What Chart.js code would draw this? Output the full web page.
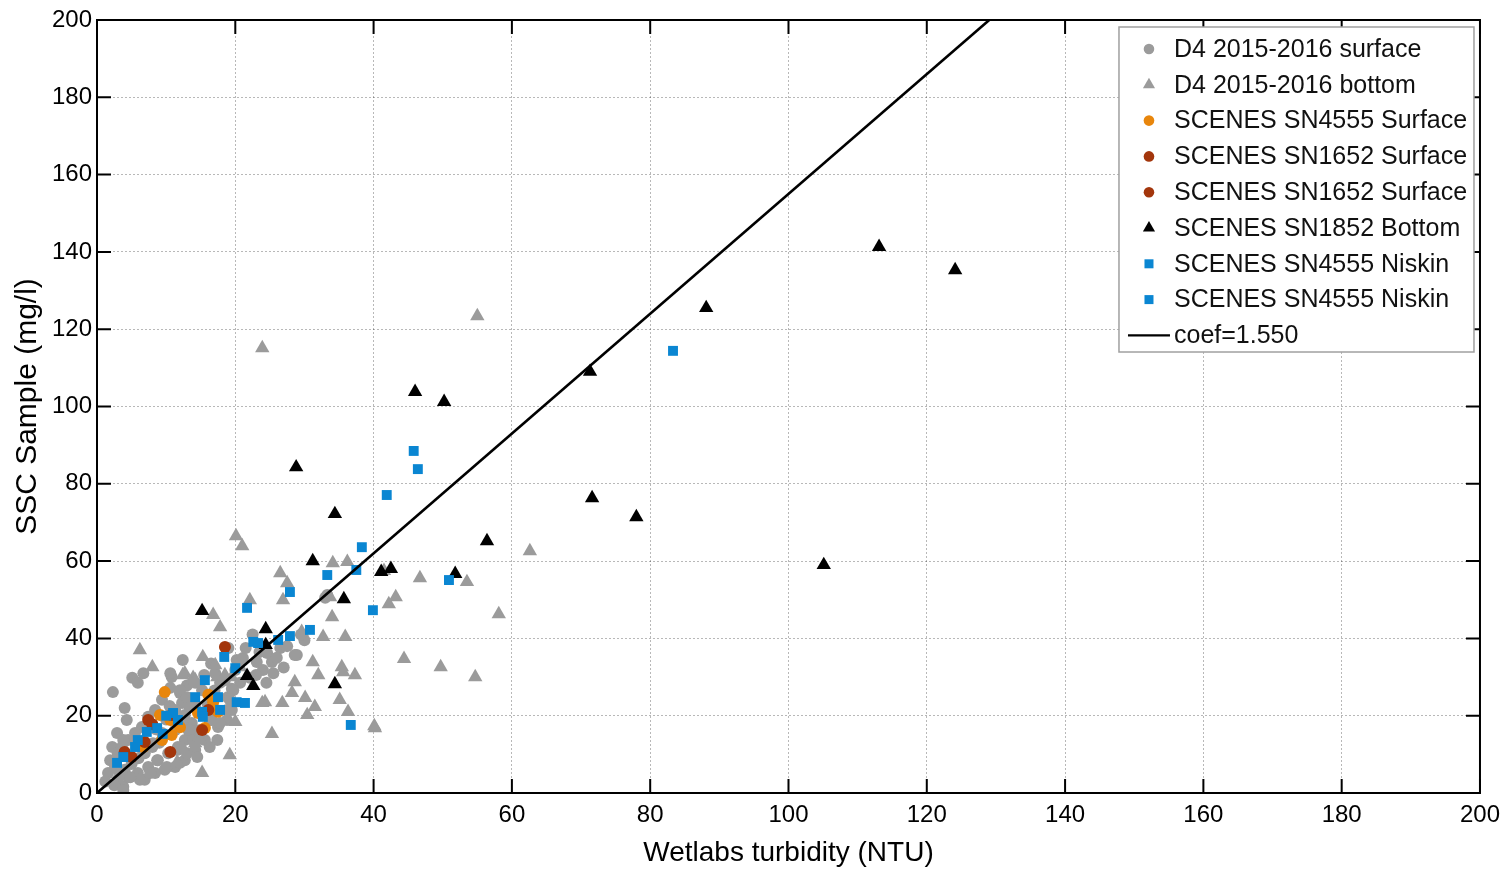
<!DOCTYPE html>
<html>
<head>
<meta charset="utf-8">
<script src="https://cdn.jsdelivr.net/npm/chart.js@4.4.1/dist/chart.umd.min.js"></script>
<style>
html,body{margin:0;padding:0;background:#fff;}
#wrap{width:1508px;height:872px;position:relative;}
</style>
</head>
<body>
<div id="wrap"><canvas id="c"></canvas></div>
<script>
// ---------- DATA ----------
const xTickValues = [0,20,40,60,80,100,120,140,160,180,200];
const yTickValues = [0,20,40,60,80,100,120,140,160,180,200];
const coef = 1.550;

const d4Surface = [
 [2.3,26.1],[4.0,22.0],[4.3,18.9],[2.9,15.5],[2.2,11.9],[1.9,8.5],[1.6,5.2],[3.8,1.6],
 [5.1,29.8],[5.9,28.5],[10.8,30.0],[10.6,27.2],[12.0,25.9],[13.2,24.6],[12.3,23.3],[14.2,22.3],
 [13.7,18.1],[13.2,16.3],[14.2,14.5],[12.7,13.7],[11.7,11.9],[10.3,10.3],[8.8,8.5],[7.4,6.7],
 [5.9,5.2],[4.5,4.1],[3.0,3.4],[2.6,6.7],[8.0,11.9],[6.9,10.3],[9.4,15.5],[11.3,16.3],
 [12.3,18.1],[11.3,21.5],[12.7,20.2],[16.6,18.9],[17.5,17.1],[15.6,13.7],[14.2,11.1],[12.7,8.5],
 [11.3,6.7],[9.8,6.0],[8.4,5.2],[6.9,3.4],[17.1,31.0],[18.5,29.2],[20.0,31.8],[21.0,34.4],
 [18.9,24.8],[19.5,21.5],[18.8,18.9],[14.2,28.5],[15.2,26.6],[9.4,24.1],[8.4,21.5],[7.4,19.7],
 [6.5,17.1],[5.5,15.5],[4.5,13.7],[3.6,11.9],[3.0,10.3],[3.8,13.7],[20.2,34.4],[21.1,34.9],
 [24.6,36.2],[23.1,33.9],[25.3,33.9],[28.9,35.7],[24.0,31.8],[22.1,29.8],[20.7,28.5],[33.0,50.5],
 [33.3,51.2],[28.6,35.7],[26.5,37.5],[16.0,23.0],[17.0,26.5],[19.5,27.0],[10.0,19.0],[9.0,13.0],
 [6.0,9.0],[5.0,7.5],[4.0,6.0],[7.0,12.5],[8.5,16.5],[10.5,22.5],[13.0,27.8],[15.5,30.5],
 [16.5,33.5],[21.5,37.5],[23.0,30.5],[25.5,31.0],[27.5,38.0],[30.0,39.5],[2.5,2.0],[1.2,3.0],
 [6.7,31.0],[10.6,31.0],[12.0,26.6],[13.0,24.8],[13.4,22.3],[12.4,18.9],[13.4,16.3],[8.1,12.9],
 [6.7,10.3],[5.2,8.5],[8.7,8.5],[10.1,6.7],[7.7,5.2],[6.2,3.4],[4.8,4.1],[3.3,5.2],
 [3.8,0.8],[11.6,11.1],[13.0,10.3],[12.0,7.8],[13.9,13.7],[14.9,16.3],[16.3,18.9],[17.8,18.1],
 [17.4,13.7],[16.3,11.9],[14.5,9.3],[19.7,26.6],[19.2,24.1],[18.8,21.5],[16.3,24.1],[17.8,28.5],
 [12.4,34.4],[23.5,36.5],[26.0,35.0],[27.0,32.5],[29.5,41.0],[22.5,41.0],[19.0,37.5],[24.5,28.5]
];

const d4Bottom = [
 [55.0,123.4],[23.9,115.1],[20.1,66.5],[21.0,63.9],[62.6,62.6],[58.1,46.3],[53.5,54.6],[46.7,55.6],
 [43.2,50.7],[42.2,48.9],[44.4,34.7],[49.7,32.6],[54.7,30.0],[40.1,17.3],[25.3,15.3],[15.2,5.2],
 [26.5,56.9],[27.5,54.3],[26.9,49.9],[22.1,49.9],[16.8,46.1],[17.8,42.9],[34.1,59.5],[36.2,59.8],
 [33.7,50.7],[34.0,45.5],[29.6,41.7],[32.7,40.4],[35.9,40.4],[35.4,32.6],[35.6,31.3],[37.3,30.5],
 [31.2,33.9],[32.0,30.5],[28.6,28.7],[28.2,25.9],[30.1,24.6],[26.8,23.3],[24.3,23.5],[31.5,22.3],
 [36.3,21.0],[30.4,20.2],[15.3,35.2],[13.9,29.8],[12.7,31.0],[17.1,33.1],[17.4,30.0],[20.7,32.6],
 [6.2,37.0],[8.0,32.6],[12.4,30.5],[20.0,18.4],[23.9,23.3],[11.6,8.0],[40.2,16.8],[35.1,24.1],
 [12.4,11.6],[14.2,12.9],[18.5,30.5],[41.5,57.5],[19.5,30.0],[14.2,29.2],[14.9,13.7],[19.2,9.8]
];

const sn4555Surface = [
 [9.8,26.1],[9.1,20.2],[10.6,18.9],[9.4,13.7],[16.1,25.4],[14.6,20.7],[15.6,16.8],[17.5,21.0],
 [6.7,11.9],[10.8,15.0],[16.8,23.5],[12.0,17.0]
];

const sn1652SurfaceA = [
 [18.5,37.8],[7.4,18.9],[10.8,20.2],[15.2,16.3],[10.6,10.6]
];
const sn1652SurfaceB = [
 [4.0,10.6],[5.0,9.3],[6.9,13.2],[16.1,21.5],[8.0,17.8]
];

const sn1852Bottom = [
 [113.1,141.3],[124.1,135.3],[88.1,125.5],[71.3,109.0],[46.0,103.8],[50.2,101.2],[28.8,84.3],[34.4,72.2],
 [71.6,76.3],[78.0,71.4],[56.4,65.2],[105.1,59.0],[31.2,60.0],[41.1,57.2],[42.5,58.0],[51.8,56.7],
 [35.7,50.2],[24.4,42.4],[24.4,38.3],[15.2,47.1],[21.7,30.3],[22.6,27.7],[34.4,28.2]
];

const sn4555NiskinA = [
 [83.3,114.4],[45.8,88.5],[46.4,83.8],[41.9,77.1],[38.3,63.6],[33.3,56.4],[37.5,57.7],[50.9,55.1],
 [27.9,52.0],[21.7,47.9],[39.9,47.3],[30.8,42.2],[27.9,40.6],[36.7,17.6],[26.2,39.6]
];
const sn4555NiskinB = [
 [22.6,39.1],[23.3,38.8],[18.4,35.2],[20.0,32.3],[15.6,29.2],[20.2,23.5],[21.4,23.3],[17.5,24.8],
 [17.8,21.5],[14.2,24.8],[15.2,21.0],[15.3,19.7],[11.0,20.7],[11.7,18.9],[8.7,16.8],[7.2,15.8],
 [5.9,13.7],[5.5,11.9],[3.8,9.3],[2.9,7.8],[10.0,20.0],[9.5,15.3]
];

const coefLine = [[0,0],[200/coef,200]];

// ---------- CHART ----------
const toXY = a => a.map(p => ({x:p[0], y:p[1]}));
const GRAY = '#9b9b9b', ORANGE = '#e8860c', BROWN = '#a3360c', BLUE = '#0a86d2';

const datasets = [
 {label:'D4 2015-2016 surface', data:toXY(d4Surface), pointStyle:'circle', pointRadius:6, backgroundColor:GRAY, order:8},
 {label:'D4 2015-2016 bottom', data:toXY(d4Bottom), pointStyle:'triangle', pointRadius:8.3, backgroundColor:GRAY, order:7},
 {label:'SCENES SN4555 Surface', data:toXY(sn4555Surface), pointStyle:'circle', pointRadius:6, backgroundColor:ORANGE, order:6},
 {label:'SCENES SN1652 Surface', data:toXY(sn1652SurfaceA), pointStyle:'circle', pointRadius:6, backgroundColor:BROWN, order:5},
 {label:'SCENES SN1652 Surface', data:toXY(sn1652SurfaceB), pointStyle:'circle', pointRadius:6, backgroundColor:BROWN, order:4},
 {label:'SCENES SN1852 Bottom', data:toXY(sn1852Bottom), pointStyle:'triangle', pointRadius:8.3, backgroundColor:'#000', order:3},
 {label:'SCENES SN4555 Niskin', data:toXY(sn4555NiskinA), pointStyle:'rect', pointRadius:7, backgroundColor:BLUE, order:2},
 {label:'SCENES SN4555 Niskin', data:toXY(sn4555NiskinB), pointStyle:'rect', pointRadius:7, backgroundColor:BLUE, order:1},
 {label:'coef=' + coef.toFixed(3), type:'line', data:toXY(coefLine), borderColor:'#000', borderWidth:2.6, pointRadius:0, showLine:true, fill:false, order:0}
];
datasets.forEach(d => { if (d.type !== 'line') { d.pointBorderWidth = 0; d.borderWidth = 0; d.showLine = false; } });

const FONT = "'Liberation Sans', Arial, Helvetica, sans-serif";

const framePlugin = {
 id:'frame',
 afterDraw(chart){
  const {ctx, chartArea:a, scales:{x, y}} = chart;
  ctx.save();
  ctx.strokeStyle = '#000';
  ctx.lineWidth = 2;
  const TL = 14;
  ctx.beginPath();
  xTickValues.forEach(v => {
   const px = x.getPixelForValue(v);
   ctx.moveTo(px, a.bottom); ctx.lineTo(px, a.bottom - TL);
   ctx.moveTo(px, a.top); ctx.lineTo(px, a.top + TL);
  });
  yTickValues.forEach(v => {
   const py = y.getPixelForValue(v);
   ctx.moveTo(a.left, py); ctx.lineTo(a.left + TL, py);
   ctx.moveTo(a.right, py); ctx.lineTo(a.right - TL, py);
  });
  ctx.stroke();
  ctx.strokeRect(a.left, a.top, a.right - a.left, a.bottom - a.top);

  // legend
  const L = a.right - 361, T = a.top + 7, W = 355, H = 325;
  ctx.fillStyle = '#fff';
  ctx.fillRect(L, T, W, H);
  ctx.strokeStyle = '#a0a0a0';
  ctx.lineWidth = 1.5;
  ctx.strokeRect(L, T, W, H);
  ctx.font = "25px " + FONT;
  ctx.textBaseline = 'middle';
  ctx.textAlign = 'left';
  chart.data.datasets.forEach((d, i) => {
   const cy = T + 22 + i * 35.8;
   const mx = L + 30;
   ctx.fillStyle = d.backgroundColor || '#000';
   if (d.type === 'line') {
    ctx.strokeStyle = '#000'; ctx.lineWidth = 2.4;
    ctx.beginPath(); ctx.moveTo(L + 9, cy); ctx.lineTo(L + 51, cy); ctx.stroke();
   } else if (d.pointStyle === 'circle') {
    ctx.beginPath(); ctx.arc(mx, cy, 5.3, 0, Math.PI*2); ctx.fill();
   } else if (d.pointStyle === 'triangle') {
    const r = 7;
    ctx.beginPath();
    ctx.moveTo(mx, cy - r); ctx.lineTo(mx + 0.866*r, cy + 0.5*r); ctx.lineTo(mx - 0.866*r, cy + 0.5*r);
    ctx.closePath(); ctx.fill();
   } else {
    ctx.fillRect(mx - 4.5, cy - 4.5, 9, 9);
   }
   ctx.fillStyle = '#111';
   ctx.fillText(d.label, L + 55, cy + 1);
  });
  ctx.restore();
 }
};

new Chart(document.getElementById('c'), {
 type:'scatter',
 data:{datasets},
 options:{
  responsive:true,
  maintainAspectRatio:false,
  animation:false,
  events:[],
  layout:{padding:{left:0, right:28, top:20, bottom:0}},
  plugins:{legend:{display:false}, tooltip:{enabled:false}},
  scales:{
   x:{
    type:'linear', min:0, max:200,
    afterFit(s){ s.height = 79; },
    afterBuildTicks(s){ s.ticks = xTickValues.map(v => ({value:v})); },
    ticks:{stepSize:20, color:'#000', padding:8, font:{family:FONT, size:24}, maxRotation:0, autoSkip:false},
    grid:{color:'rgba(0,0,0,0.28)', lineWidth:1, drawTicks:false},
    border:{display:false, dash:[2,2]},
    title:{display:true, text:'Wetlabs turbidity (NTU)', color:'#000', font:{family:FONT, size:28}, padding:{top:0, bottom:2}}
   },
   y:{
    type:'linear', min:0, max:200,
    afterFit(s){ s.width = 97; },
    afterBuildTicks(s){ s.ticks = yTickValues.map(v => ({value:v})); },
    ticks:{stepSize:20, color:'#000', padding:5, font:{family:FONT, size:24}, autoSkip:false},
    grid:{color:'rgba(0,0,0,0.28)', lineWidth:1, drawTicks:false},
    border:{display:false, dash:[2,2]},
    title:{display:true, text:'SSC Sample (mg/l)', color:'#000', font:{family:FONT, size:30}, padding:{top:10, bottom:0}}
   }
  }
 },
 plugins:[framePlugin]
});
</script>
</body>
</html>
